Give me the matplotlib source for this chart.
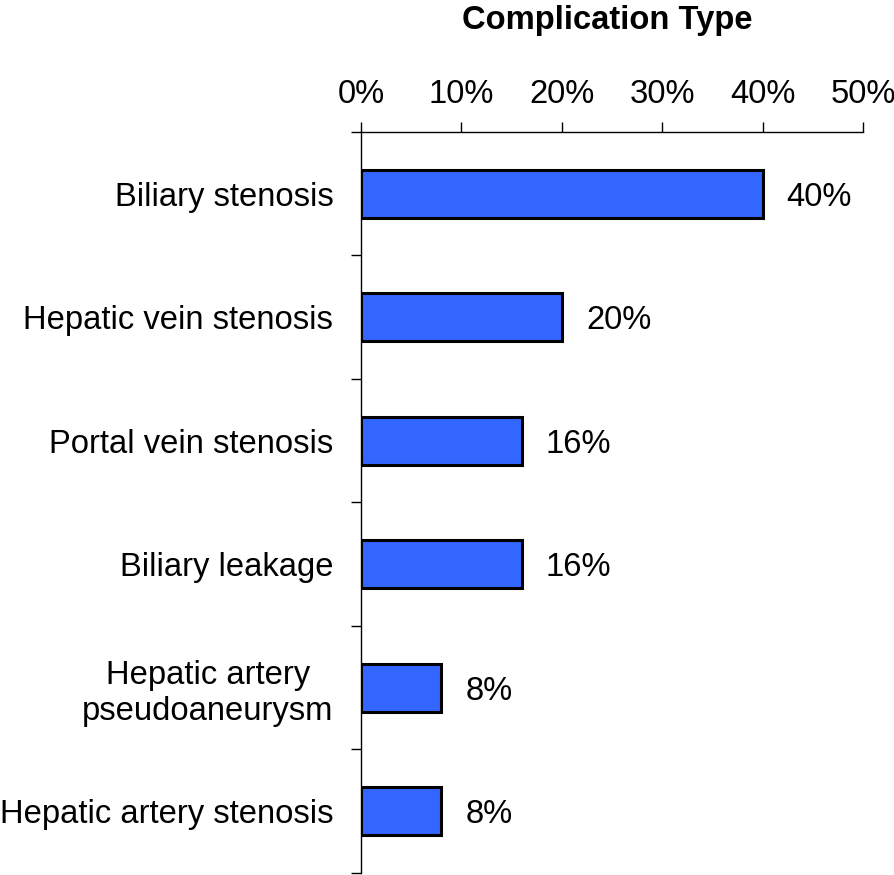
import numpy as np
import matplotlib.pyplot as plt
from matplotlib.ticker import FixedLocator, PercentFormatter

plt.rcParams['font.family'] = ['Liberation Sans', 'DejaVu Sans']

# datos
categorias = ['Biliary stenosis', 'Hepatic vein stenosis', 'Portal vein stenosis',
              'Biliary leakage', 'Hepatic artery\npseudoaneurysm', 'Hepatic artery stenosis']
valores = [40, 20, 16, 16, 8, 8]
etiquetas = ['40%', '20%', '16%', '16%', '8%', '8%']
titulo = 'Complication Type'

fig = plt.figure(figsize=(8.95, 8.75), dpi=100)
ax = fig.add_axes([0.4034, 0.0023, 0.5609, 0.8469])

y = np.arange(len(categorias))
ax.barh(y, valores, height=0.39, color='#3366FF', edgecolor='black', linewidth=2.2, zorder=3)

# etiquetas de valor
for yi, v, t in zip(y, valores, etiquetas):
    ax.text(v + 2.4, yi, t, va='center_baseline', ha='left', fontsize=23.6)

ax.set_xlim(0, 50)
ax.set_ylim(len(categorias) - 0.5, -0.5)

# eje x arriba
ax.xaxis.tick_top()
ax.set_xticks(np.arange(0, 51, 10))
ax.xaxis.set_major_formatter(PercentFormatter(decimals=0))
ax.tick_params(axis='x', direction='out', length=7, width=1, pad=9, labelsize=23.6)

# eje y: etiquetas sin marca, marcas en los limites
ax.set_yticks(y)
ax.set_yticklabels(categorias, multialignment='center')
ax.yaxis.set_minor_locator(FixedLocator(np.arange(-0.5, len(categorias), 1.0)))
ax.tick_params(axis='y', which='major', length=0, pad=20, labelsize=23.6)
ax.tick_params(axis='y', which='minor', length=7, width=1)

for s in ['right', 'bottom']:
    ax.spines[s].set_visible(False)
ax.spines['left'].set_linewidth(1)
ax.spines['top'].set_linewidth(1)

fig.text(0.678, 0.977, titulo, ha='center', va='center', fontsize=23.6, fontweight='bold')

fig.savefig('out.png', dpi=100)
